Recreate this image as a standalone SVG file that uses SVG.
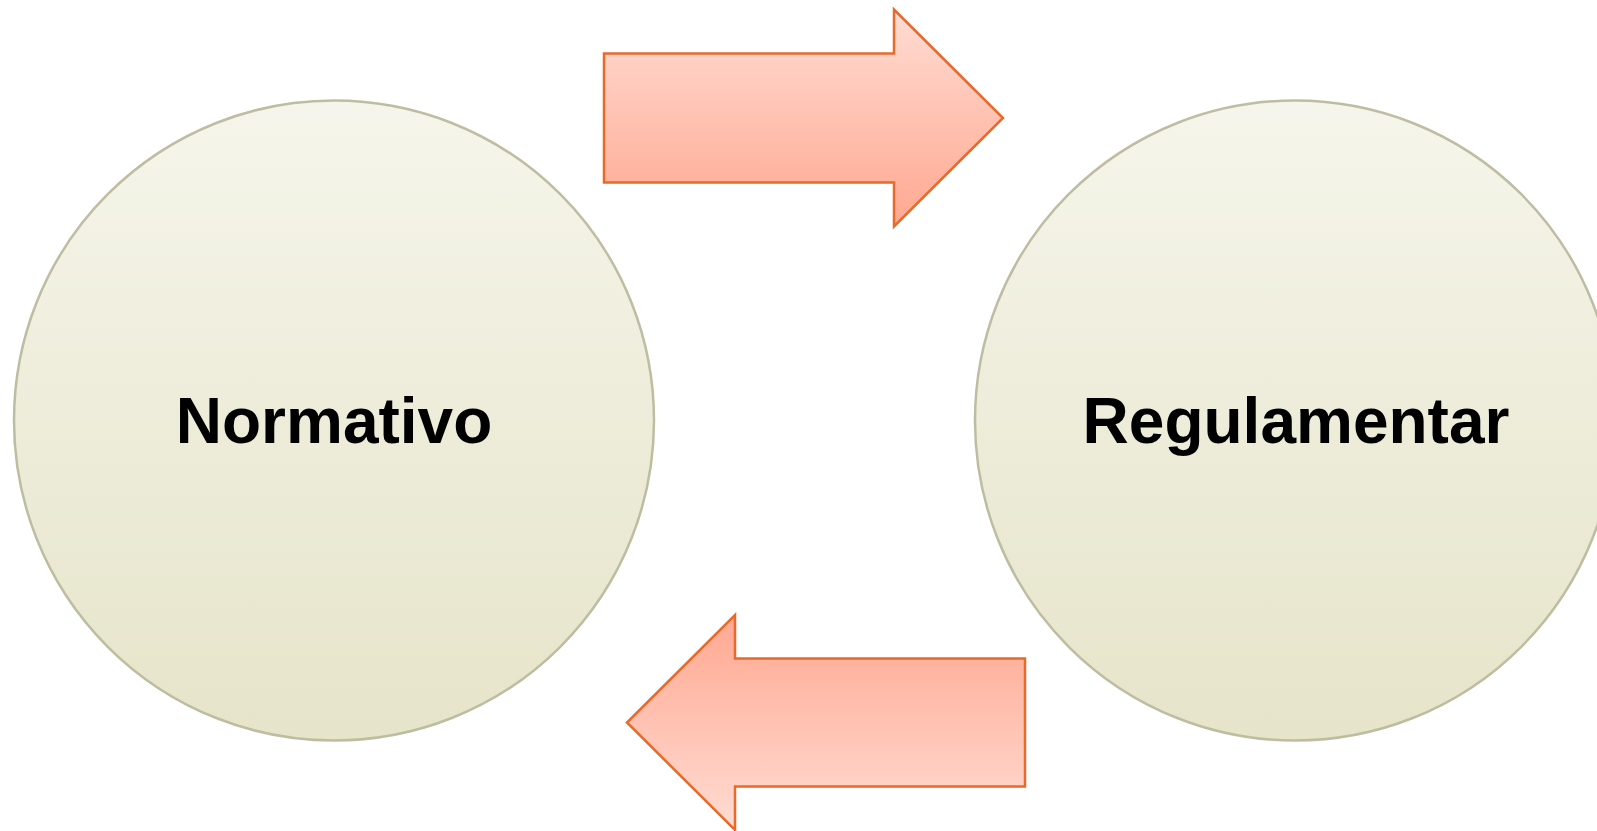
<svg xmlns="http://www.w3.org/2000/svg" width="1597" height="831" viewBox="0 0 1597 831">
<defs>
<linearGradient id="gCircle" x1="0" y1="0" x2="0" y2="1">
<stop offset="0" stop-color="#F5F5EB"/>
<stop offset="1" stop-color="#E6E4C9"/>
</linearGradient>
<linearGradient id="gArrowDown" x1="0" y1="0" x2="0" y2="1">
<stop offset="0" stop-color="#FFDCD3"/>
<stop offset="1" stop-color="#FFA891"/>
</linearGradient>
<linearGradient id="gArrowUp" x1="0" y1="1" x2="0" y2="0">
<stop offset="0" stop-color="#FFDCD3"/>
<stop offset="1" stop-color="#FFA891"/>
</linearGradient>
<style>
.node circle { fill: url(#gCircle); stroke: #BEBDA2; stroke-width: 2.5; }
.label { font-family: "Liberation Sans", Arial, sans-serif; font-weight: bold; font-size: 64px; fill: #000; text-anchor: middle; }
.arrow { stroke: #E8692A; stroke-width: 2.5; stroke-linejoin: miter; }
</style>
</defs>
<rect width="1597" height="831" fill="#FFFFFF"/>
<g id="normativo" class="node">
<circle cx="334" cy="420.5" r="320"/>
<text class="label" x="334" y="443">Normativo</text>
</g>
<g id="regulamentar" class="node">
<circle cx="1295" cy="420.5" r="320"/>
<text class="label" x="1296" y="443">Regulamentar</text>
</g>
<g id="connectors">
<polygon class="arrow" fill="url(#gArrowDown)" points="604,53.5 894,53.5 894,9.5 1003,118 894,226.5 894,182.5 604,182.5"/>
<polygon class="arrow" fill="url(#gArrowUp)" points="1025,658.5 735,658.5 735,615 627,722.5 735,830 735,786.5 1025,786.5"/>
</g>
</svg>
